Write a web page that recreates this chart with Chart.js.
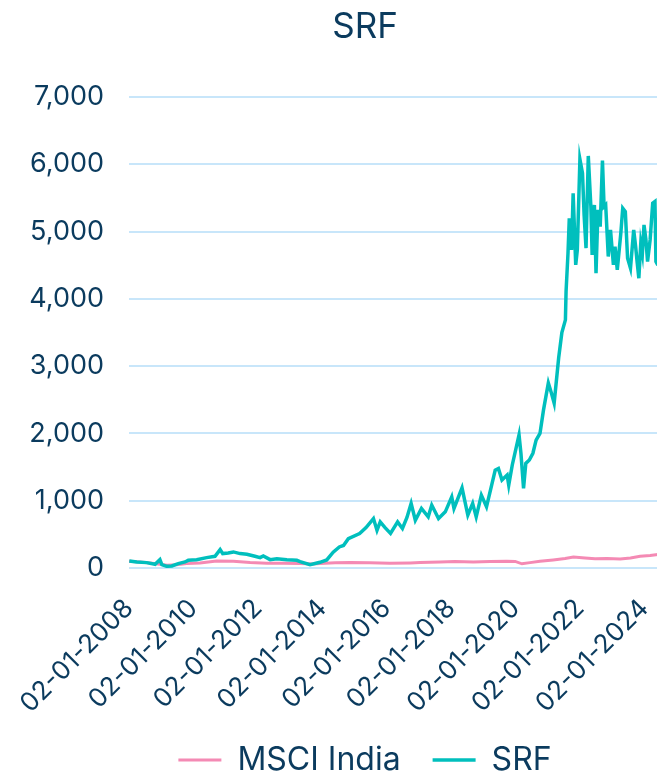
<!DOCTYPE html>
<html>
<head>
<meta charset="utf-8">
<script src="https://cdn.jsdelivr.net/npm/chart.js@4.4.1/dist/chart.umd.min.js"></script>
<style>
html, body { margin: 0; padding: 0; background: #ffffff; overflow: hidden; }
#wrap { width: 730px; height: 774px; }
</style>
</head>
<body>
<div id="wrap"><canvas id="c" width="730" height="774"></canvas></div>
<script>
// ---- data (x = decimal year) ----
const tickYears = [2008, 2010, 2012, 2014, 2016, 2018, 2020, 2022, 2024];
const tickLabels = ["02-01-2008", "02-01-2010", "02-01-2012", "02-01-2014", "02-01-2016", "02-01-2018", "02-01-2020", "02-01-2022", "02-01-2024"];

const msciYears = [2008.0, 2008.34, 2008.65, 2008.96, 2009.18, 2009.48, 2009.79, 2010.2, 2010.72, 2011.24, 2011.76, 2012.28, 2012.79, 2013.31, 2013.71, 2013.93, 2014.4, 2014.86, 2015.48, 2016.1, 2016.73, 2017.04, 2017.66, 2018.12, 2018.69, 2019.21, 2019.73, 2019.99, 2020.2, 2020.45, 2020.76, 2021.17, 2021.54, 2021.8, 2022.16, 2022.47, 2022.84, 2023.25, 2023.57, 2023.87, 2024.18, 2024.42];
const msciValues = [100, 90, 75, 55, 42, 50, 65, 75, 104, 100, 80, 70, 70, 68, 60, 68, 78, 82, 78, 70, 75, 80, 90, 98, 90, 95, 100, 98, 62, 80, 100, 120, 140, 164, 150, 138, 140, 135, 150, 174, 185, 200];

const srfYears = [2008.01, 2008.24, 2008.55, 2008.81, 2008.96, 2009.02, 2009.17, 2009.33, 2009.53, 2009.74, 2009.84, 2010.1, 2010.41, 2010.67, 2010.83, 2010.91, 2011.08, 2011.24, 2011.45, 2011.66, 2011.91, 2012.07, 2012.17, 2012.38, 2012.59, 2012.9, 2013.21, 2013.31, 2013.62, 2013.93, 2014.14, 2014.34, 2014.53, 2014.66, 2014.81, 2015.16, 2015.36, 2015.59, 2015.7, 2015.8, 2015.95, 2016.12, 2016.34, 2016.49, 2016.63, 2016.76, 2016.89, 2017.08, 2017.29, 2017.4, 2017.61, 2017.82, 2018.02, 2018.09, 2018.34, 2018.52, 2018.67, 2018.78, 2018.94, 2019.1, 2019.26, 2019.37, 2019.47, 2019.58, 2019.74, 2019.79, 2019.9, 2020.11, 2020.17, 2020.25, 2020.32, 2020.43, 2020.54, 2020.64, 2020.76, 2020.87, 2021.02, 2021.1, 2021.2, 2021.34, 2021.44, 2021.55, 2021.57, 2021.63, 2021.67, 2021.74, 2021.79, 2021.87, 2021.92, 2022.0, 2022.08, 2022.13, 2022.19, 2022.26, 2022.34, 2022.38, 2022.45, 2022.5, 2022.56, 2022.63, 2022.7, 2022.75, 2022.8, 2022.88, 2022.95, 2023.04, 2023.09, 2023.16, 2023.27, 2023.33, 2023.41, 2023.48, 2023.57, 2023.67, 2023.73, 2023.78, 2023.83, 2023.89, 2023.94, 2023.99, 2024.05, 2024.1, 2024.18, 2024.26, 2024.33, 2024.36, 2024.42];
const srfValues = [105, 90, 80, 55, 124, 50, 25, 30, 65, 90, 114, 124, 154, 174, 274, 214, 224, 239, 214, 204, 174, 154, 179, 124, 139, 124, 114, 95, 50, 85, 120, 235, 313, 335, 435, 513, 600, 735, 560, 685, 600, 513, 685, 587, 750, 960, 710, 885, 760, 935, 735, 835, 1058, 885, 1192, 785, 960, 760, 1083, 910, 1232, 1455, 1480, 1307, 1382, 1232, 1531, 1978, 1700, 1183, 1555, 1605, 1705, 1900, 2000, 2350, 2750, 2625, 2450, 3120, 3500, 3688, 4109, 4678, 5198, 4728, 5569, 4505, 4728, 6074, 5866, 5248, 4753, 6124, 5371, 4654, 5396, 4381, 5322, 5074, 6054, 5371, 5396, 4629, 5025, 4505, 4777, 4431, 4975, 5347, 5297, 4604, 4456, 5025, 4777, 4530, 4307, 4827, 4678, 5099, 4876, 4554, 4876, 5421, 5446, 4554, 4500];

const seriesNames = ["MSCI India", "SRF"];
const yTicks = [0, 1000, 2000, 3000, 4000, 5000, 6000, 7000];

const NAVY = '#0B3B5E';
const TEAL = '#00BFBD';
const PINK = '#F48AB4';
const GRID = '#C8E6FA';

function toPoints(xs, ys) { return xs.map((x, i) => ({ x: x, y: ys[i] })); }

new Chart(document.getElementById('c'), {
  type: 'line',
  data: {
    datasets: [
      { label: seriesNames[0], data: toPoints(msciYears, msciValues), borderColor: PINK, backgroundColor: PINK, borderWidth: 3, pointRadius: 0, tension: 0, order: 1 },
      { label: seriesNames[1], data: toPoints(srfYears, srfValues), borderColor: TEAL, backgroundColor: TEAL, borderWidth: 3.5, pointRadius: 0, tension: 0, order: 0 }
    ]
  },
  options: {
    responsive: false,
    animation: false,
    devicePixelRatio: 1,
    layout: { padding: { left: 0, right: 0, top: 0, bottom: -12 } },
    plugins: {
      tooltip: { enabled: false },
      title: {
        display: true, text: 'SRF', color: NAVY,
        font: { family: 'Inter', size: 35, weight: 'normal' },
        padding: { top: 6, bottom: 49 }
      },
      legend: {
        position: 'bottom',
        labels: {
          usePointStyle: true, pointStyle: 'line', pointStyleWidth: 43,
          color: NAVY, font: { family: 'Inter', size: 32 }, padding: 32,
          sort: (a, b) => a.datasetIndex - b.datasetIndex
        }
      }
    },
    scales: {
      x: {
        type: 'linear', min: 2008, max: 2026.66,
        grid: { display: false, drawTicks: false },
        border: { display: false },
        afterBuildTicks: axis => { axis.ticks = tickYears.map(v => ({ value: v })); },
        afterFit: axis => { axis.paddingLeft = 0; axis.paddingRight = 0; axis.height = 144; },
        ticks: {
          autoSkip: false, minRotation: 45, maxRotation: 45, padding: 25,
          color: NAVY, font: { family: 'Inter', size: 26 },
          callback: v => tickLabels[tickYears.indexOf(v)] || ''
        }
      },
      y: {
        min: 0, max: 7000,
        afterBuildTicks: axis => { axis.ticks = yTicks.map(v => ({ value: v })); },
        afterFit: axis => { axis.width = 129; },
        grid: { color: GRID, lineWidth: 2, drawTicks: false },
        border: { display: false },
        ticks: {
          padding: 25, color: NAVY, font: { family: 'Inter', size: 27 },
          callback: v => v.toLocaleString('en-US')
        }
      }
    }
  }
});
</script>
</body>
</html>
